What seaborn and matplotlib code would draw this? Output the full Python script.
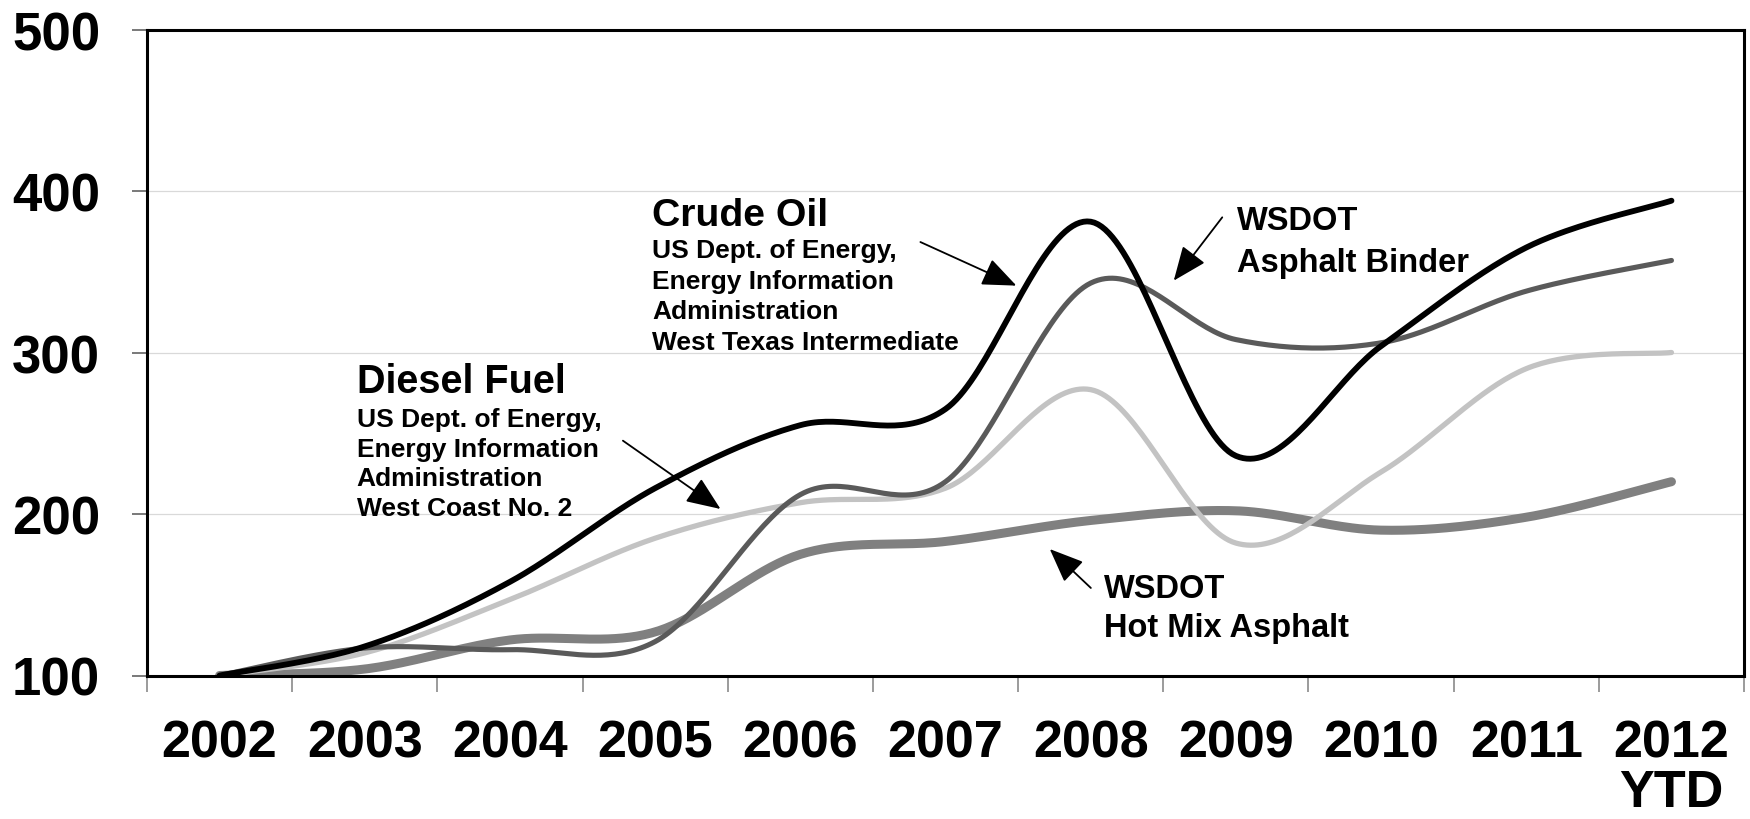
import numpy as np
import matplotlib
matplotlib.use("Agg")
import matplotlib.pyplot as plt
import seaborn as sns

# Price index (2002 = 100)
years = ["2002", "2003", "2004", "2005", "2006", "2007", "2008", "2009", "2010", "2011", "2012\nYTD"]
crude_oil = [100, 118, 158, 216, 255, 265, 381, 236, 304, 365, 394]
asphalt_binder = [100, 117, 116, 121, 212, 220, 343, 308, 306, 338, 357]
diesel_fuel = [100, 114, 147, 185, 207, 216, 277, 182, 226, 290, 300]
hot_mix_asphalt = [100, 104, 122, 127, 175, 183, 196, 202, 190, 198, 220]
y_ticks = [100, 200, 300, 400, 500]


def smooth(values, steps=40):
    """Smoothed line through every point: cubic Bezier segments with
    Catmull-Rom control points (spreadsheet-style 'smoothed line')."""
    p = np.column_stack([np.arange(len(values), dtype=float), np.asarray(values, float)])
    ext = np.vstack([p[0], p, p[-1]])
    t = np.linspace(0, 1, steps, endpoint=False)[:, None]
    parts = []
    for i in range(len(p) - 1):
        p0, p1 = ext[i + 1], ext[i + 2]
        c1 = p0 + (ext[i + 2] - ext[i]) / 6
        c2 = p1 - (ext[i + 3] - ext[i + 1]) / 6
        seg = ((1 - t) ** 3) * p0 + 3 * ((1 - t) ** 2) * t * c1 + 3 * (1 - t) * t ** 2 * c2 + t ** 3 * p1
        parts.append(seg)
    parts.append(p[-1][None, :])
    return np.vstack(parts)


sns.set_theme(style="white")
plt.rcParams["font.family"] = ["Liberation Sans", "DejaVu Sans"]
plt.rcParams["font.weight"] = "bold"

fig = plt.figure(figsize=(17.5, 8.2), dpi=100)
ax = fig.add_axes([0.084, 0.175, 0.9126, 0.7878])

# drawing order: bottom to top
series = [
    (hot_mix_asphalt, "#808080", 6.5),
    (diesel_fuel, "#c3c3c3", 3.8),
    (asphalt_binder, "#5a5a5a", 3.7),
    (crude_oil, "#000000", 4.2),
]
for values, color, lw in series:
    curve = smooth(values)
    sns.lineplot(x=curve[:, 0], y=curve[:, 1], ax=ax, color=color, linewidth=lw,
                 estimator=None, sort=False, solid_capstyle="round")

ax.set_xlim(-0.5, len(years) - 0.5)
ax.set_ylim(100, 500)
ax.set_yticks(y_ticks)
ax.set_yticklabels([str(v) for v in y_ticks])
ax.yaxis.grid(True, color="#d9d9d9", linewidth=0.9)
ax.set_axisbelow(True)

ax.set_xticks(range(len(years)))
ax.set_xticklabels(years)
ax.set_xticks(np.arange(-0.5, len(years), 1), minor=True)
ax.tick_params(axis="x", which="major", length=0, pad=31, labelsize=37.5, bottom=True)
ax.tick_params(axis="x", which="minor", length=11.5, width=1.1, color="#808080",
               direction="out", bottom=True)
ax.tick_params(axis="y", length=10.8, width=1.1, color="#555555", pad=23,
               labelsize=38, left=True, direction="out")
for lbl in ax.get_xticklabels() + ax.get_yticklabels():
    lbl.set_fontweight("bold")
    lbl.set_color("black")
for lbl in ax.get_xticklabels():
    lbl.set_linespacing(1.0)

for side in ["left", "right", "top", "bottom"]:
    ax.spines[side].set_visible(True)
    ax.spines[side].set_color("black")
    ax.spines[side].set_linewidth(2.2)

ax.set_xlabel("")
ax.set_ylabel("")


# Series labels
def label_block(x, title, title_y, title_size, lines, first_y, step, size):
    if title:
        ax.text(x, title_y, title, fontsize=title_size, fontweight="bold",
                ha="left", va="baseline", color="black")
    for k, line in enumerate(lines):
        ax.text(x, first_y - k * step, line, fontsize=size, fontweight="bold",
                ha="left", va="baseline", color="black")


label_block(2.978, "Crude Oil", 378.9, 28.3,
            ["US Dept. of Energy,", "Energy Information", "Administration",
             "West Texas Intermediate"], 359.1, 18.9, 19)
label_block(0.943, "Diesel Fuel", 275.5, 28.5,
            ["US Dept. of Energy,", "Energy Information", "Administration",
             "West Coast No. 2"], 254.5, 18.3, 19)
label_block(7.006, None, None, None,
            ["WSDOT", "Asphalt Binder"], 376.5, 25.8, 23.5)
label_block(6.091, None, None, None,
            ["WSDOT", "Hot Mix Asphalt"], 148.6, 24.1, 23.5)

arrow = dict(arrowstyle="-|>,head_length=0.85,head_width=0.35", mutation_scale=25,
             lw=1.3, color="black", shrinkA=0, shrinkB=0)
ax.annotate("", xy=(5.488, 341.4), xytext=(4.827, 368.4), arrowprops=arrow)
ax.annotate("", xy=(3.45, 203.1), xytext=(2.778, 245.4), arrowprops=arrow)
ax.annotate("", xy=(6.572, 344.5), xytext=(6.906, 383.7), arrowprops=arrow)
ax.annotate("", xy=(5.718, 178.3), xytext=(6.001, 154.2), arrowprops=arrow)

fig.savefig("out.png", dpi=100)
